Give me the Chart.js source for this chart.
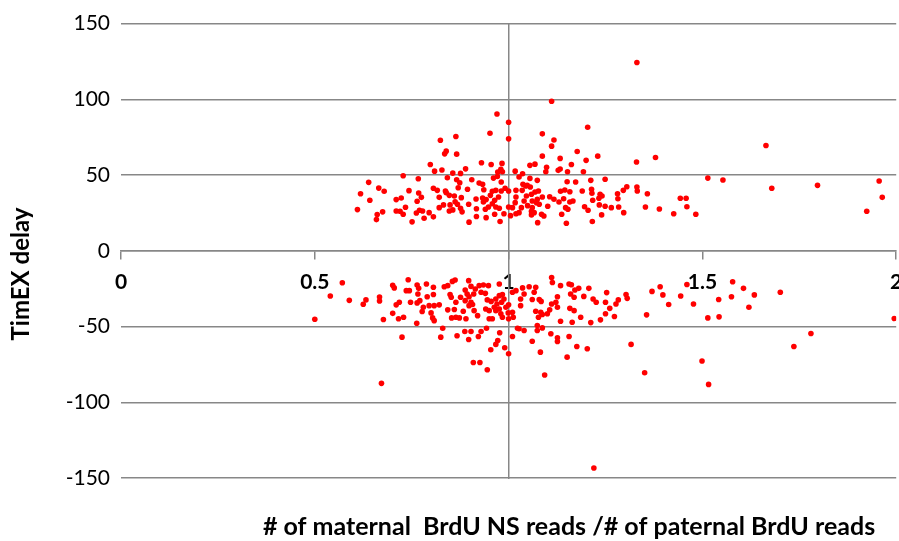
<!DOCTYPE html>
<html>
<head>
<meta charset="utf-8">
<script src="https://cdn.jsdelivr.net/npm/chart.js@4.4.1/dist/chart.umd.min.js"></script>
<style>
  html, body { margin: 0; padding: 0; background: #fff; }
</style>
</head>
<body>
<canvas id="timexChart" width="899" height="541"></canvas>
<script>
// ratio of maternal / paternal BrdU reads vs TimEX delay, two clouds (early / late)
const upperRatio = [0.970,1.000,0.952,1.000,0.864,0.824,0.839,0.835,0.866,0.798,0.809,0.828,0.930,0.955,0.983,0.980,0.972,0.984,1.017,1.036,
  1.055,1.068,0.728,0.767,0.842,0.856,0.876,0.889,0.866,0.874,0.639,0.618,0.642,0.665,0.679,0.610,0.661,0.659,0.675,0.710,
  0.723,0.743,0.768,0.775,0.764,0.734,0.710,0.720,0.728,0.751,0.770,0.778,0.762,0.782,0.795,0.806,0.806,0.816,0.837,0.821,
  0.832,0.821,0.839,0.847,0.860,0.870,0.878,0.862,0.849,0.856,0.868,0.876,0.880,0.894,0.905,0.924,0.933,0.936,0.961,0.971,
  0.981,0.967,0.897,0.916,0.933,0.935,0.942,0.953,0.958,0.964,0.974,0.981,0.991,1.000,1.019,1.035,1.044,1.056,1.068,0.917,
  0.940,0.948,0.958,0.967,0.976,0.988,1.000,1.010,1.019,1.017,1.033,1.049,1.059,1.072,0.942,0.964,0.978,0.917,0.898,1.005,
  1.019,1.075,1.059,0.847,1.111,1.204,1.087,1.117,1.111,1.177,1.087,1.133,1.230,1.200,1.162,1.330,1.379,1.098,1.096,1.128,
  1.133,1.152,1.193,1.027,1.055,1.074,1.151,1.173,1.212,1.249,1.514,1.037,1.048,1.077,1.046,1.059,1.087,1.106,1.117,1.134,
  1.145,1.158,1.190,1.214,1.215,1.236,1.241,1.233,1.217,1.281,1.282,1.296,1.305,1.331,1.332,1.358,1.443,1.458,1.460,1.483,
  1.426,1.389,1.353,1.297,1.284,1.265,1.249,1.234,1.240,1.216,1.205,1.196,1.166,1.158,1.142,1.130,1.147,1.153,1.137,1.149,
  1.101,1.091,1.085,1.061,1.066,1.079,1.027,1.040,1.061,1.074,1.553,1.664,1.679,1.797,1.956,1.964,1.924,1.331];
const upperDelay = [90.3,84.9,77.6,73.9,75.5,73.0,65.8,64.0,63.8,57.0,52.6,53.3,58.1,57.0,57.7,53.8,52.0,52.2,52.6,50.9,
  56.4,57.2,49.5,47.6,48.2,51.3,51.1,54.1,46.9,44.9,45.2,37.7,33.4,41.4,39.3,27.2,23.9,20.6,25.7,33.8,
  34.9,39.7,38.2,35.3,32.7,28.8,26.3,26.1,24.1,19.1,26.8,26.3,25.0,21.5,25.2,22.4,41.3,39.9,39.5,35.3,
  30.3,28.5,38.4,36.6,36.2,41.6,35.1,32.4,30.3,27.0,30.7,28.1,25.7,40.6,46.9,44.7,43.9,40.3,48.0,49.1,
  45.4,39.9,30.7,34.2,34.9,32.2,33.8,36.6,39.3,33.4,35.5,39.5,41.3,39.5,39.9,39.9,42.8,42.1,38.8,27.8,
  27.4,28.9,31.1,28.9,28.1,24.5,28.9,28.5,35.5,31.8,28.5,29.8,26.1,31.8,21.9,24.1,19.3,22.6,18.9,23.2,
  24.5,18.6,23.7,26.3,98.7,81.6,77.2,73.2,69.1,65.6,62.5,61.0,62.5,59.7,57.0,58.6,61.6,55.1,52.2,53.1,
  54.0,52.2,52.2,48.7,47.8,46.5,45.6,45.4,46.5,47.2,48.0,43.9,43.2,39.5,36.2,37.3,35.5,35.7,34.0,39.3,
  40.1,39.0,39.5,40.6,38.0,37.3,36.2,34.7,33.4,37.7,34.4,39.9,42.3,42.1,39.5,37.7,34.7,34.7,29.1,24.1,
  24.5,27.6,28.9,25.2,28.9,28.5,29.4,30.3,23.7,19.3,26.8,29.1,32.9,32.2,34.4,32.2,28.5,27.4,24.1,18.2,
  29.4,23.0,24.1,28.5,25.2,30.7,25.2,32.9,32.9,34.0,46.7,69.5,41.3,43.2,46.1,35.3,26.1,124.3];

const lowerRatio = [0.571,0.540,0.589,0.625,0.632,0.667,0.667,0.500,0.677,0.701,0.705,0.741,0.764,0.768,0.788,0.806,0.736,0.744,0.766,0.790,
  0.806,0.718,0.710,0.701,0.716,0.729,0.747,0.764,0.771,0.780,0.777,0.795,0.808,0.821,0.800,0.804,0.808,0.763,0.834,0.843,
  0.855,0.862,0.849,0.852,0.876,0.864,0.843,0.860,0.864,0.853,0.873,0.883,0.890,0.897,0.903,0.914,0.924,0.935,0.948,0.976,
  0.888,0.893,0.898,0.910,0.888,0.903,0.898,0.907,0.911,0.920,0.929,0.940,0.945,0.955,0.967,0.976,0.984,0.988,0.982,0.970,
  0.963,0.941,0.950,0.967,0.976,0.980,0.950,0.958,1.000,0.999,1.010,1.000,0.830,0.825,0.867,0.887,0.903,0.897,0.922,0.929,
  0.943,0.977,0.972,0.967,0.954,0.990,1.000,0.725,0.909,0.926,0.945,0.672,1.023,1.111,1.113,1.134,1.156,1.162,1.181,1.207,
  1.171,1.160,1.169,1.194,1.218,1.226,1.253,1.250,1.277,1.283,1.303,1.306,1.370,1.391,1.398,1.413,1.444,1.460,1.477,1.036,
  1.053,1.040,1.031,1.031,1.066,1.070,1.079,1.061,1.084,1.070,1.083,1.087,1.077,1.100,1.106,1.111,1.122,1.126,1.126,1.158,
  1.169,1.186,1.134,1.164,1.212,1.237,1.250,1.261,1.273,1.356,1.514,1.027,1.040,1.074,1.074,1.087,1.010,1.061,1.109,1.126,
  1.126,1.156,1.176,1.203,1.316,1.082,1.151,1.093,1.351,1.499,1.516,0.984,1.012,0.993,1.010,1.019,1.578,1.606,1.634,1.701,
  1.575,1.542,1.620,1.543,1.780,1.736,1.995,1.220];
const lowerDelay = [-21.1,-29.8,-32.7,-35.3,-32.4,-30.5,-33.1,-45.2,-45.4,-22.8,-24.5,-19.1,-22.6,-24.8,-21.9,-24.1,-26.3,-26.3,-28.5,-30.3,
  -28.9,-34.0,-35.7,-41.3,-44.9,-43.9,-34.0,-34.4,-32.9,-37.3,-40.1,-36.2,-36.2,-35.7,-41.0,-44.3,-46.1,-47.8,-23.7,-23.0,
  -20.2,-19.3,-28.9,-30.7,-30.7,-34.0,-39.0,-38.8,-43.9,-44.3,-44.3,-39.9,-44.9,-19.7,-23.5,-25.2,-23.0,-22.6,-23.0,-21.9,
  -25.9,-28.5,-30.3,-28.5,-32.9,-34.0,-36.2,-35.5,-39.5,-42.8,-27.4,-28.1,-32.4,-33.4,-31.8,-29.6,-28.9,-31.8,-34.0,-35.1,
  -37.3,-38.4,-39.5,-39.5,-38.4,-41.6,-44.9,-44.9,-35.7,-41.0,-40.6,-44.9,-51.1,-57.0,-56.1,-53.3,-53.3,-58.6,-56.6,-53.3,
  -51.1,-54.1,-59.2,-61.8,-65.3,-64.0,-68.0,-57.0,-73.7,-73.7,-78.5,-87.5,-51.1,-17.6,-20.9,-23.0,-21.9,-22.4,-24.8,-24.8,
  -25.9,-28.5,-30.7,-30.1,-31.8,-34.0,-27.6,-34.0,-35.1,-32.4,-28.9,-31.4,-26.8,-23.7,-29.1,-35.5,-29.8,-22.2,-35.1,-24.5,
  -23.7,-28.5,-31.8,-36.2,-27.4,-24.1,-32.2,-32.2,-33.4,-39.9,-40.6,-42.1,-43.9,-41.6,-39.0,-35.1,-34.0,-30.3,-37.3,-38.0,
  -39.5,-43.9,-46.5,-47.2,-47.4,-45.6,-41.6,-38.0,-43.4,-42.3,-44.3,-51.5,-52.6,-49.3,-52.6,-50.9,-56.6,-59.7,-54.8,-57.4,
  -59.9,-56.6,-63.2,-64.7,-61.8,-66.9,-70.2,-82.0,-80.5,-72.8,-88.2,-43.9,-43.9,-37.3,-27.4,-26.3,-20.4,-24.8,-29.1,-27.4,
  -30.3,-32.2,-37.3,-43.6,-54.6,-63.2,-44.7,-143.4];

const xTicks = [0, 0.5, 1, 1.5, 2];
const yTicks = [-150, -100, -50, 0, 50, 100, 150];
const xTitle = '# of maternal  BrdU NS reads /# of paternal BrdU reads';
const yTitle = 'TimEX delay';

const points = upperRatio.map((r, i) => ({x: r, y: upperDelay[i]}))
  .concat(lowerRatio.map((r, i) => ({x: r, y: lowerDelay[i]})));

const gridGray = '#878787';

// axis titles sit in the margins, not along the crossing axes
const axisTitles = {
  id: 'axisTitles',
  afterDraw(chart) {
    const ctx = chart.ctx;
    ctx.save();
    ctx.fillStyle = '#000';
    ctx.textAlign = 'center';
    ctx.textBaseline = 'middle';
    ctx.font = 'bold 25px Lato';
    ctx.fillText(xTitle, 569, 527);
    ctx.font = 'bold 24px Lato';
    ctx.translate(21, 274);
    ctx.rotate(-Math.PI / 2);
    ctx.fillText(yTitle, 0, 0);
    ctx.restore();
  }
};

const ctx = document.getElementById('timexChart').getContext('2d');
const timexChart = new Chart(ctx, {
  type: 'scatter',
  data: {
    datasets: [{
      data: points,
      backgroundColor: '#ff0000',
      borderWidth: 0,
      pointRadius: 2.8,
      pointHoverRadius: 2.8
    }]
  },
  options: {
    responsive: false,
    animation: false,
    layout: { padding: { top: 22, right: 1, bottom: 63, left: 0 } },
    plugins: { legend: { display: false }, tooltip: { enabled: false } },
    scales: {
      x: {
        type: 'linear',
        position: { y: 0 },
        min: 0, max: 2,
        afterBuildTicks: (scale) => { scale.ticks = xTicks.map(v => ({value: v})); },
        afterFit: (scale) => { scale.paddingLeft = 0; scale.paddingRight = 0; },
        ticks: {
          color: '#000',
          font: { family: 'Lato', size: 21, weight: 'bold' },
          padding: 11,
          maxRotation: 0,
          callback: (v) => String(v)
        },
        grid: { drawOnChartArea: false, drawTicks: true, tickLength: 8, color: gridGray, lineWidth: 1.5 },
        border: { display: true, color: gridGray, width: 1.5 }
      },
      y: {
        type: 'linear',
        position: 'left',
        min: -150, max: 150,
        afterBuildTicks: (scale) => { scale.ticks = yTicks.map(v => ({value: v})); },
        afterFit: (scale) => { scale.width = 121; },
        ticks: {
          color: '#000',
          font: { family: 'Lato', size: 21 },
          padding: 11
        },
        grid: { drawTicks: false, color: gridGray, lineWidth: 1.5 },
        border: { display: false }
      },
      yCross: {
        type: 'linear',
        axis: 'y',
        position: { x: 1 },
        min: -150, max: 150,
        ticks: { display: false },
        grid: { display: false },
        border: { display: true, color: gridGray, width: 1.5 }
      }
    }
  },
  plugins: [axisTitles]
});
</script>
</body>
</html>
